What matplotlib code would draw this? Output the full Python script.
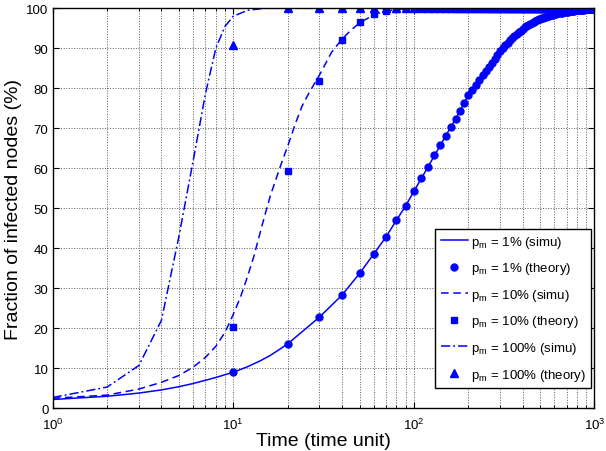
import matplotlib.pyplot as plt
import numpy as np

plt.rcParams['font.family'] = ['Liberation Sans', 'DejaVu Sans']
plt.rcParams['mathtext.fontset'] = 'custom'
plt.rcParams['mathtext.rm'] = 'Liberation Sans'
plt.rcParams['mathtext.it'] = 'Liberation Sans'

# simulation curves (knots at integer times)
t1_head = [1, 2, 3, 4, 5, 6, 7, 8, 9, 10, 12, 14, 16, 18]
p1_head = [2.2, 3.0, 3.8, 4.6, 5.4, 6.2, 7.0, 7.7, 8.4, 9.0, 10.4, 11.8, 13.2, 14.7]

t10_sim = [1, 2, 3, 4, 5, 6, 7, 8, 9, 10, 11, 12, 13, 14, 15, 16, 17, 18, 19, 20,
           22, 24, 26, 28, 30, 35, 40, 45, 50, 60, 70, 80, 100, 1000]
p10_sim = [2.5, 3.3, 4.8, 6.5, 8.2, 10.3, 12.7, 15.5, 19.0, 23.5, 28.0, 33.0, 38.0,
           43.5, 48.5, 53.0, 56.5, 59.8, 62.8, 65.5, 71.0, 75.5, 78.5, 81.0, 83.3,
           89.0, 92.3, 94.6, 96.3, 98.4, 99.3, 99.7, 100.0, 100.0]

t100_sim = [1, 2, 3, 4, 5, 6, 7, 8, 9, 10, 12, 15, 1000]
p100_sim = [2.7, 5.3, 10.7, 22.0, 43.0, 62.0, 78.5, 90.0, 95.5, 98.0, 99.5, 100.0, 100.0]

# theory points every 10 time units
t_theory = list(range(10, 1001, 10))
p1_theory = [9.0, 16.1, 22.8, 28.3, 33.7, 38.6, 42.8, 47.0, 50.6, 54.2,
             57.5, 60.4, 63.2, 65.7, 68.1, 70.3, 72.3, 74.4, 76.3, 78.2,
             79.5, 80.8, 82.0, 83.2, 84.3, 85.4, 86.4, 87.4, 88.3, 89.2,
             90.0, 90.7, 91.4, 92.0, 92.6, 93.1, 93.6, 94.0, 94.4, 94.8,
             95.2, 95.5, 95.8, 96.1, 96.4, 96.6, 96.8, 97.0, 97.2, 97.3,
             97.5, 97.6, 97.8, 97.9, 98.0, 98.1, 98.2, 98.3, 98.4, 98.5,
             98.6, 98.7, 98.75, 98.8, 98.85, 98.9, 98.95, 99.0, 99.05, 99.1,
             99.15, 99.2, 99.25, 99.3, 99.35, 99.4, 99.42, 99.45, 99.48, 99.5,
             99.53, 99.56, 99.59, 99.62, 99.65, 99.67, 99.69, 99.71, 99.73, 99.75,
             99.77, 99.79, 99.81, 99.83, 99.85, 99.87, 99.88, 99.89, 99.9, 99.9]
p10_theory = [20.2, 59.4, 81.9, 92.1, 96.5, 98.6, 99.4, 99.8] + [100.0] * 92
p100_theory = [90.8] + [100.0] * 99

t1_sim = t1_head + t_theory[1:]
p1_sim = p1_head + p1_theory[1:]

blue = '#0000ff'

fig = plt.figure(figsize=(6.06, 4.52), dpi=100)
ax = fig.add_axes([0.087, 0.0945, 0.894, 0.885])

ax.plot(t1_sim, p1_sim, '-', color=blue, lw=1.1, label='p$_m$ = 1% (simu)')
ax.plot(t_theory, p1_theory, 'o', color=blue, ms=5, mec=blue, label='p$_m$ = 1% (theory)')
ax.plot(t10_sim, p10_sim, '--', color=blue, lw=1.1, dashes=(5, 3), label='p$_m$ = 10% (simu)')
ax.plot(t_theory, p10_theory, 's', color=blue, ms=4, mec=blue, label='p$_m$ = 10% (theory)')
ax.plot(t100_sim, p100_sim, '-.', color=blue, lw=1.1, dashes=(6, 2, 1.2, 2), label='p$_m$ = 100% (simu)')
ax.plot(t_theory, p100_theory, '^', color=blue, ms=5.5, mec=blue, label='p$_m$ = 100% (theory)')

ax.set_xscale('log')
ax.set_xlim(1, 1000)
ax.set_ylim(0, 100)
ax.set_yticks(np.arange(0, 101, 10))

ax.grid(True, which='both', axis='x', color='0.35', linestyle=':', lw=0.7)
ax.grid(True, which='major', axis='y', color='0.35', linestyle=':', lw=0.7)
ax.tick_params(which='both', direction='in', top=True, right=True, labelsize=9.5)
ax.tick_params(axis='y', pad=3)
ax.tick_params(axis='x', pad=6)
ax.tick_params(which='major', length=4)
ax.tick_params(which='minor', length=2)
for s in ax.spines.values():
    s.set_linewidth(1.0)

ax.set_xlabel('Time (time unit)', fontsize=14, labelpad=0)
ax.set_ylabel('Fraction of infected nodes (%)', fontsize=14, labelpad=3)

leg = ax.legend(loc='lower right', bbox_to_anchor=(0.994, 0.051), fontsize=9.5,
                fancybox=False, framealpha=1, edgecolor='black', handlelength=2.1,
                labelspacing=0.8, borderpad=0.4, handletextpad=0.2, borderaxespad=0)
leg.get_frame().set_linewidth(1.0)

fig.savefig('out.png', dpi=100)
